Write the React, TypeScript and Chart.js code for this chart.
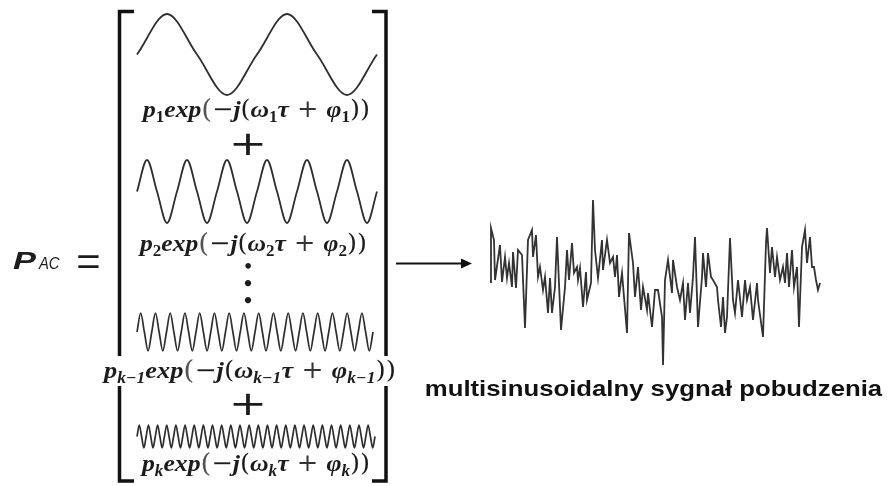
import React, { useEffect, useRef } from "react";
import { Chart, registerables } from "chart.js";

Chart.register(...registerables);

const W = 890;
const H = 486;

// ---- DATA ----
// Component sinusoids, read at quarter-period steps (normalised amplitude)
const wave1 = [0, 1, 0, -1, 0, 1, 0, -1, 0];
const wave2 = [
  0,
  1, 0, -1, 0, 1, 0, -1, 0, 1, 0, -1, 0,
  1, 0, -1, 0, 1, 0, -1, 0, 1, 0, -1, 0,
];
const wave3 = [
  0,
  1, 0, -1, 0, 1, 0, -1, 0, 1, 0, -1, 0, 1, 0, -1, 0,
  1, 0, -1, 0, 1, 0, -1, 0, 1, 0, -1, 0, 1, 0, -1, 0,
  1, 0, -1, 0, 1, 0, -1, 0, 1, 0, -1, 0, 1, 0, -1, 0,
  1, 0, -1, 0, 1, 0, -1, 0, 1, 0, -1, 0, 1, 0, -1, 0,
];
const wave4 = [
  0,
  1, 0, -1, 0, 1, 0, -1, 0, 1, 0, -1, 0, 1, 0, -1, 0,
  1, 0, -1, 0, 1, 0, -1, 0, 1, 0, -1, 0, 1, 0, -1, 0,
  1, 0, -1, 0, 1, 0, -1, 0, 1, 0, -1, 0, 1, 0, -1, 0,
  1, 0, -1, 0, 1, 0, -1, 0, 1, 0, -1, 0, 1, 0, -1, 0,
  1, 0, -1, 0, 1, 0, -1, 0, 1, 0, -1, 0, 1, 0, -1, 0,
  1, 0, -1, 0, 1, 0, -1, 0, 1, 0, -1, 0, 1, 0, -1, 0,
  1, 0, -1, 0, 1, 0, -1, 0,
];

// Multisine excitation signal: sample position and amplitude
const signalT = [
  0, 1, 4, 5, 10, 12, 15, 17, 19, 22, 23, 26, 28, 32, 35, 38, 42, 43, 46, 48,
  50, 53, 55, 58, 60, 62, 65, 67, 71, 75, 77, 79, 82, 84, 87, 88, 90, 93, 96, 97,
  101, 103, 105, 108, 112, 113, 117, 120, 123, 125, 127, 129, 132, 137, 139, 143, 145, 148, 151, 153,
  157, 158, 162, 165, 168, 172, 173, 175, 178, 182, 183, 187, 190, 193, 195, 198, 200, 203, 205, 208,
  212, 213, 216, 218, 221, 223, 227, 228, 231, 233, 235, 237, 240, 243, 245, 248, 252, 255, 257, 260,
  263, 267, 268, 273, 276, 277, 280, 282, 285, 287, 290, 293, 295, 297, 299, 302, 304, 307, 309, 312,
  315, 317, 320, 322, 324, 326, 328, 330,
];
const signalV = [
  -0.2, 5.2, 4.0, 0.0, 3.5, -0.2, 2.3, 0.2, 1.7, -0.7, 2.8, -0.8, 3.0, 2.5, -4.8, 4.0, 5.0, 2.3, 4.5, 0.3,
  1.3, -1.0, 0.3, -3.3, 0.2, -3.3, -0.7, 4.3, -5.0, -0.7, 3.0, 0.0, 3.7, 0.7, 1.3, 0.0, 1.2, -2.7, 0.8, -2.0,
  -0.3, 8.0, 3.0, 0.2, 4.0, 1.0, 4.0, 1.7, 2.3, 0.3, 2.5, -1.7, 0.7, -5.3, 4.7, 1.7, -1.7, 1.3, -3.0, -0.7,
  -3.0, -1.3, -4.7, -1.0, -1.0, -3.7, -8.5, 0.0, 2.0, -1.3, 2.0, -0.7, -2.0, -0.3, -4.0, -0.3, -3.3, 0.3, 4.3, -4.7,
  0.3, 2.7, -0.7, 2.7, 0.3, 0.0, -0.7, -2.0, -4.7, -1.7, -5.3, -3.7, 4.2, -2.0, -3.3, 0.0, -3.7, 0.0, -2.0, -0.7,
  -4.0, -0.3, -2.0, -5.7, 3.7, 5.2, 0.7, 3.3, 0.3, 2.3, 0.0, 1.3, -0.3, 2.7, -0.7, 3.0, -0.7, 1.3, -4.7, 3.3,
  5.0, 1.7, 4.3, 1.3, 1.3, 0.0, -1.0, -0.3,
];

const componentSubscripts = ["1", "2", "k−1", "k"];
const captionText = "multisinusoidalny sygnał pobudzenia";

// ---- LAYOUT ----
const waves = [wave1, wave2, wave3, wave4];
const WAVE_BOXES = [
  { left: 137, right: 377, top: 14, bottom: 95 },
  { left: 137, right: 377, top: 160, bottom: 223 },
  { left: 137, right: 373, top: 313, bottom: 351 },
  { left: 137, right: 375, top: 425, bottom: 448 },
];
const FORMULA_BOXES = [
  { left: 143, right: 370, baseline: 117 },
  { left: 140, right: 367, baseline: 251 },
  { left: 104, right: 396, baseline: 378 },
  { left: 142, right: 370, baseline: 471 },
];
const SIGNAL_BOX = { left: 490, right: 820, top: 200, bottom: 365, vTop: 8, vBottom: -8.5 };
const INK = "#1c1c1c";

function xAxis(p1: number, p2: number, v1: number, v2: number) {
  const u = (p2 - p1) / (v2 - v1);
  const min = v1 - p1 / u;
  return { type: "linear", axis: "x", position: "bottom", display: false, bounds: "data", min, max: min + W / u };
}
function yAxis(p1: number, p2: number, v1: number, v2: number) {
  const u = (p2 - p1) / (v1 - v2);
  const max = v1 + p1 / u;
  return { type: "linear", axis: "y", position: "left", display: false, bounds: "data", min: max - H / u, max };
}

function drawFormula(ctx: CanvasRenderingContext2D, sub: string, box: { left: number; right: number; baseline: number }) {
  const size = 24;
  const fam = '"Liberation Serif"';
  const main = `italic bold ${size}px ${fam}`;
  const subNum = `bold ${Math.round(size * 0.66)}px ${fam}`;
  const subF = /k/.test(sub) ? `italic bold ${Math.round(size * 0.66)}px ${fam}` : subNum;
  const paren = `${Math.round(size * 1.1)}px "DejaVu Serif"`;
  const plain = `${size}px "DejaVu Serif"`;
  const segs: [string, string, number, string][] = [
    ["p", main, 0, INK],
    [sub, subF, 5, INK],
    ["exp", main, 0, INK],
    ["(", paren, 1, "#555"],
    ["−", plain, 0, INK],
    ["j", main, 0, INK],
    ["(", plain, 0, INK],
    ["ω", main, 0, INK],
    [sub, subF, 5, INK],
    ["τ", main, 0, INK],
    [" + ", plain, 0, "#333"],
    ["φ", main, 0, INK],
    [sub, subF, 5, INK],
    ["))", plain, 0, INK],
  ];
  let total = 0;
  const widths: number[] = [];
  for (const s of segs) {
    ctx.font = s[1];
    const w = ctx.measureText(s[0]).width;
    widths.push(w);
    total += w;
  }
  const sx = (box.right - box.left) / total;
  ctx.save();
  ctx.translate(box.left, box.baseline);
  ctx.scale(sx, 1);
  ctx.textBaseline = "alphabetic";
  ctx.textAlign = "left";
  let x = 0;
  segs.forEach((s, i) => {
    ctx.font = s[1];
    ctx.fillStyle = s[3];
    ctx.fillText(s[0], x, s[2]);
    x += widths[i];
  });
  ctx.restore();
}

function fitText(ctx: CanvasRenderingContext2D, text: string, font: string, left: number, right: number, baseline: number, color: string) {
  ctx.save();
  ctx.font = font;
  ctx.textAlign = "left";
  ctx.textBaseline = "alphabetic";
  const m = ctx.measureText(text);
  const inkW = m.actualBoundingBoxLeft + m.actualBoundingBoxRight;
  const sx = (right - left) / inkW;
  ctx.translate(left, baseline);
  ctx.scale(sx, 1);
  ctx.fillStyle = color;
  ctx.fillText(text, m.actualBoundingBoxLeft, 0);
  ctx.restore();
}

function centerSymbol(ctx: CanvasRenderingContext2D, text: string, font: string, cx: number, cy: number, sx: number, color: string) {
  ctx.save();
  ctx.font = font;
  ctx.textAlign = "center";
  ctx.textBaseline = "alphabetic";
  const m = ctx.measureText(text);
  const base = cy + (m.actualBoundingBoxAscent - m.actualBoundingBoxDescent) / 2;
  ctx.translate(cx, base);
  ctx.scale(sx, 1);
  ctx.fillStyle = color;
  ctx.fillText(text, 0, 0);
  ctx.restore();
}

const diagramPlugin = {
  id: "diagram",
  beforeDatasetsDraw(chart: any) {
    const ctx: CanvasRenderingContext2D = chart.ctx;
    ctx.save();
    ctx.strokeStyle = "#111";
    ctx.lineWidth = 3.5;
    ctx.lineCap = "butt";
    // left bracket
    ctx.beginPath();
    ctx.moveTo(134, 11.5);
    ctx.lineTo(119.5, 11.5);
    ctx.lineTo(119.5, 356);
    ctx.moveTo(119.5, 386);
    ctx.lineTo(119.5, 481);
    ctx.lineTo(134, 481);
    // right bracket
    ctx.moveTo(372, 11.5);
    ctx.lineTo(386, 11.5);
    ctx.lineTo(386, 356);
    ctx.moveTo(386, 386);
    ctx.lineTo(386, 481);
    ctx.lineTo(372, 481);
    ctx.stroke();
    // arrow
    ctx.lineWidth = 2;
    ctx.beginPath();
    ctx.moveTo(396, 263.5);
    ctx.lineTo(464, 263.5);
    ctx.stroke();
    ctx.fillStyle = "#111";
    ctx.beginPath();
    ctx.moveTo(472, 263.5);
    ctx.lineTo(461, 258.5);
    ctx.lineTo(461, 268.5);
    ctx.closePath();
    ctx.fill();
    ctx.restore();
  },
  afterDatasetsDraw(chart: any) {
    const ctx: CanvasRenderingContext2D = chart.ctx;
    componentSubscripts.forEach((s, i) => drawFormula(ctx, s, FORMULA_BOXES[i]));
    // plus signs
    centerSymbol(ctx, "+", '34px "DejaVu Sans"', 248, 144, 1.35, INK);
    centerSymbol(ctx, "+", '34px "DejaVu Sans"', 248, 404, 1.35, INK);
    // vertical ellipsis
    centerSymbol(ctx, "•", 'bold 16px "DejaVu Sans"', 248, 266, 1, INK);
    centerSymbol(ctx, "•", 'bold 18px "DejaVu Sans"', 248, 283, 1, INK);
    centerSymbol(ctx, "•", 'bold 18px "DejaVu Sans"', 248, 300, 1, INK);
    // P_AC =
    fitText(ctx, "P", 'italic bold 23px "Liberation Sans"', 13, 37, 269, INK);
    fitText(ctx, "AC", 'italic 16px "Liberation Sans"', 38, 60, 269, INK);
    centerSymbol(ctx, "=", '38px "Liberation Sans"', 88.5, 261.5, 1.1, INK);
    // caption
    fitText(ctx, captionText, 'bold 22px "Liberation Sans"', 426, 883, 396, "#111");
  },
};

export default function App() {
  const ref = useRef<HTMLCanvasElement | null>(null);

  useEffect(() => {
    document.body.style.margin = "0";
    const canvas = ref.current;
    if (!canvas) return;

    const scales: Record<string, any> = {};
    const datasets: any[] = [];
    waves.forEach((w, i) => {
      const b = WAVE_BOXES[i];
      scales[`xw${i}`] = xAxis(b.left, b.right, 0, w.length - 1);
      scales[`yw${i}`] = yAxis(b.top, b.bottom, 1, -1);
      datasets.push({
        label: `component ${componentSubscripts[i]}`,
        data: w.map((v, k) => ({ x: k, y: v })),
        xAxisID: `xw${i}`,
        yAxisID: `yw${i}`,
        borderColor: "#2e2e2e",
        borderWidth: i < 2 ? 1.8 : 1.7,
        pointRadius: 0,
        cubicInterpolationMode: "monotone",
        fill: false,
      });
    });
    scales.xs = xAxis(SIGNAL_BOX.left, SIGNAL_BOX.right, signalT[0], signalT[signalT.length - 1]);
    scales.ys = yAxis(SIGNAL_BOX.top, SIGNAL_BOX.bottom, SIGNAL_BOX.vTop, SIGNAL_BOX.vBottom);
    datasets.push({
      label: captionText,
      data: signalT.map((t, k) => ({ x: t, y: signalV[k] })),
      xAxisID: "xs",
      yAxisID: "ys",
      borderColor: "#333",
      borderWidth: 1.8,
      pointRadius: 0,
      tension: 0,
      fill: false,
    });

    const chart = new Chart(canvas, {
      type: "line",
      data: { datasets },
      options: {
        responsive: false,
        animation: false,
        events: [],
        layout: { padding: 0 },
        plugins: { legend: { display: false }, tooltip: { enabled: false }, title: { display: false } },
        scales,
      } as any,
      plugins: [diagramPlugin as any],
    });
    return () => chart.destroy();
  }, []);

  return (
    <canvas
      ref={ref}
      width={W}
      height={H}
      style={{ display: "block", width: W, height: H, background: "#fff" }}
    />
  );
}
